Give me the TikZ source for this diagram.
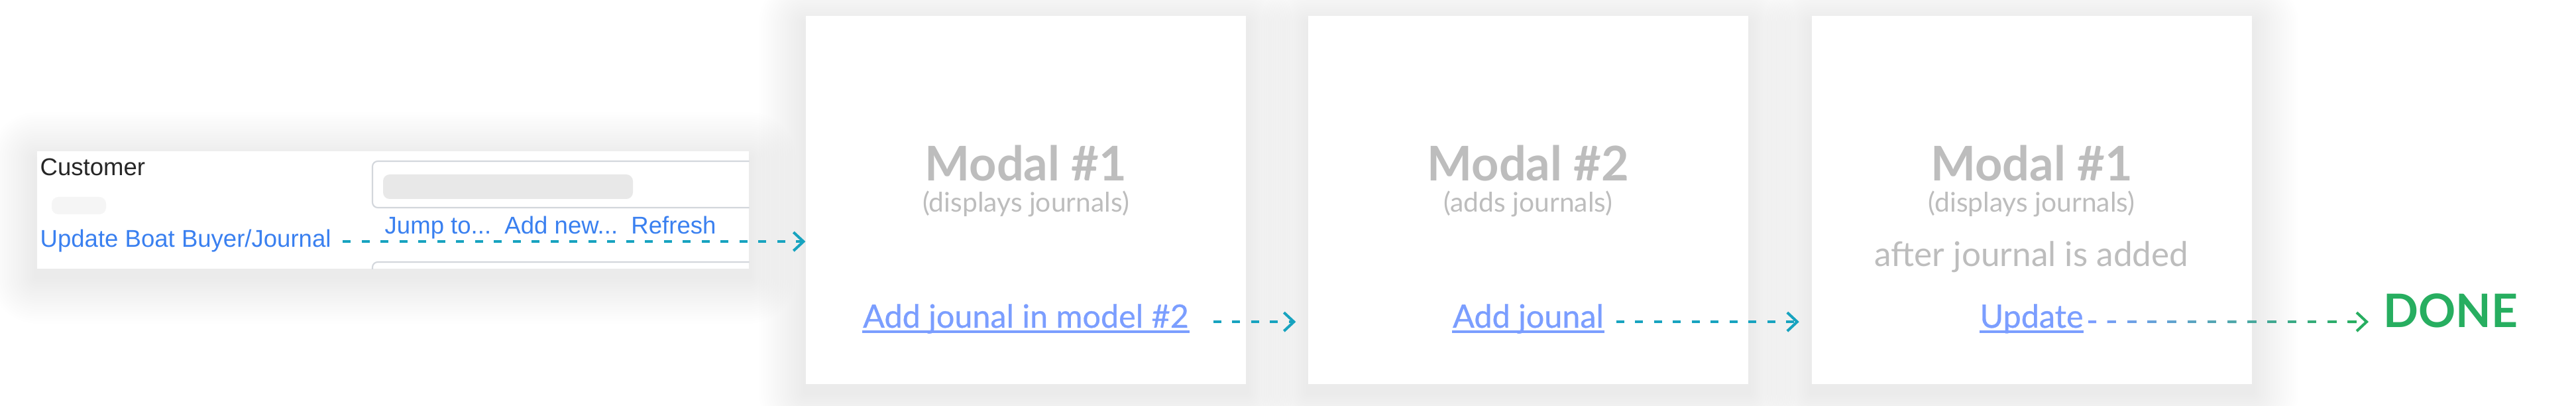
\documentclass[tikz,border=0pt]{standalone}
\usepackage{fontspec}
\setmainfont{Lato}
\newfontfamily\uifont{Liberation Sans}
\newfontfamily\linkfont[FakeBold=0.6]{Lato}
\usetikzlibrary{arrows.meta,backgrounds,calc}

\definecolor{modalgray}{HTML}{BDBDBD}
\definecolor{linkblue}{HTML}{7B9EFF}
\definecolor{uiblue}{HTML}{3A80F0}
\definecolor{flowteal}{HTML}{17A3BF}
\definecolor{donegreen}{HTML}{27AE60}
\definecolor{fieldgray}{HTML}{D3D7DC}

\tikzset{
	card/.style={fill=white, inner sep=0pt},
	modal/.style={card, minimum width=6.64cm, minimum height=5.55cm},
	title/.style={inner sep=0pt, anchor=base, text=modalgray, font=\fontsize{20.5pt}{24pt}\selectfont\bfseries},
	subtitle/.style={inner sep=0pt, anchor=base, text=modalgray, font=\fontsize{11.6pt}{14pt}\selectfont},
	link/.style={inner sep=0pt, anchor=base, text=linkblue, font=\linkfont\fontsize{13.8pt}{16pt}\selectfont},
	underln/.style={linkblue, line width=1.1pt},
	uitext/.style={inner sep=0pt, anchor=base west, font=\uifont\fontsize{10.4pt}{12pt}\selectfont},
	field/.style={fieldgray, line width=0.6pt, rounded corners=0.8mm},
	flowline/.style={line width=1.15pt, dash pattern=on 1.2mm off 1.65mm},
	flow/.style={flowline, flowteal, -{Straight Barb[length=1.5mm,width=2.8mm]}},
	softshadow/.style={black, opacity=0.0035},
}

\begin{document}
\begin{tikzpicture}
	\useasboundingbox (0,0) rectangle (38.87,6.12);

	% the customer form
	\node[card, minimum width=10.74cm, minimum height=1.77cm] (crm) at (5.93,2.955) {};
	\begin{scope}
		\clip (crm.south west) rectangle (crm.north east);
		\draw[field] (5.62,2.99) rectangle (11.6,3.69);
		\draw[field] (5.62,1.5) rectangle (11.6,2.17);
		\fill[black!9, rounded corners=1mm] (5.78,3.12) rectangle (9.55,3.49);
		\fill[black!4, rounded corners=1mm] (0.78,2.89) rectangle (1.60,3.15);
	\end{scope}
	\node[uitext, text=black!85] (cust) at (0.60,3.47) {Customer};
	\node[uitext, text=uiblue] (jump) at (5.80,2.59) {Jump to...~~Add new...~~Refresh};
	\node[uitext, text=uiblue] (upd) at (0.60,2.39) {Update Boat Buyer/Journal};

	% modals
	\node[modal] (m1) at (15.48,3.105) {};
	\node[modal] (m2) at (23.06,3.105) {};
	\node[modal] (m3) at (30.655,3.105) {};

	\node[title] (t1) at ([yshift=2.85mm]m1.center) {Modal \#1};
	\node[subtitle] (s1) at ([yshift=-1.85mm]m1.center) {(displays journals)};
	\node[link] (l1) at ([yshift=-19.25mm]m1.center) {Add jounal in model \#2};

	\node[title] (t2) at ([yshift=2.85mm]m2.center) {Modal \#2};
	\node[subtitle] (s2) at ([yshift=-1.85mm]m2.center) {(adds journals)};
	\node[link] (l2) at ([yshift=-19.25mm]m2.center) {Add jounal};

	\node[title] (t3) at ([yshift=2.85mm]m3.center) {Modal \#1};
	\node[subtitle] (s3) at ([yshift=-1.85mm]m3.center) {(displays journals)};
	\node[subtitle, font=\fontsize{14.6pt}{17pt}\selectfont] (a3) at ([yshift=-10.05mm]m3.center) {after journal is added};
	\node[link] (l3) at ([yshift=-19.25mm]m3.center) {Update};

	\foreach \n in {l1,l2,l3}
		\draw[underln] ([yshift=-0.6mm]\n.base west) -- ([yshift=-0.6mm]\n.base east);

	\node[inner sep=0pt, anchor=base west, text=donegreen, font=\fontsize{19.8pt}{24pt}\selectfont\bfseries] (done) at (35.96,1.18) {DONE};

	% soft shadows under the cards
	\begin{scope}[on background layer]
		\fill[white] (0,0) rectangle (38.87,6.12);
		\foreach \c in {crm,m1,m2,m3}
			\foreach \r in {1,...,20}
				\fill[softshadow, rounded corners=0.35*\r mm]
					([xshift=-0.35*\r mm, yshift=-1.2mm-0.35*\r mm]\c.south west)
					rectangle ([xshift=0.35*\r mm, yshift=-1.2mm+0.35*\r mm]\c.north east);
	\end{scope}

	% arrows
	\draw[flow] ([xshift=1.7mm]upd.mid east) -- (upd.mid east -| m1.west);
	\draw[flow] ([xshift=3.6mm]l1.mid east) -- ([xshift=-1.8mm]l1.mid east -| m2.west);
	\draw[flow] ([xshift=1.8mm]l2.mid east) -- ([xshift=-1.8mm]l2.mid east -| m3.west);

	% last arrow goes from blue to green
	\coordinate (u0) at ([xshift=0.7mm]l3.mid east);
	\coordinate (u1) at ([xshift=-2.2mm]l3.mid east -| done.west);
	\foreach \k [evaluate=\k as \p using int(100-\k*100/13)] in {0,...,12}
		\draw[flowline, linkblue!\p!donegreen] ($(u0)!\k/14!(u1)$) -- ($(u0)!\k/14+1/14!(u1)$);
	\draw[flow, donegreen] ($(u0)!13/14!(u1)$) -- (u1);
\end{tikzpicture}
\end{document}
